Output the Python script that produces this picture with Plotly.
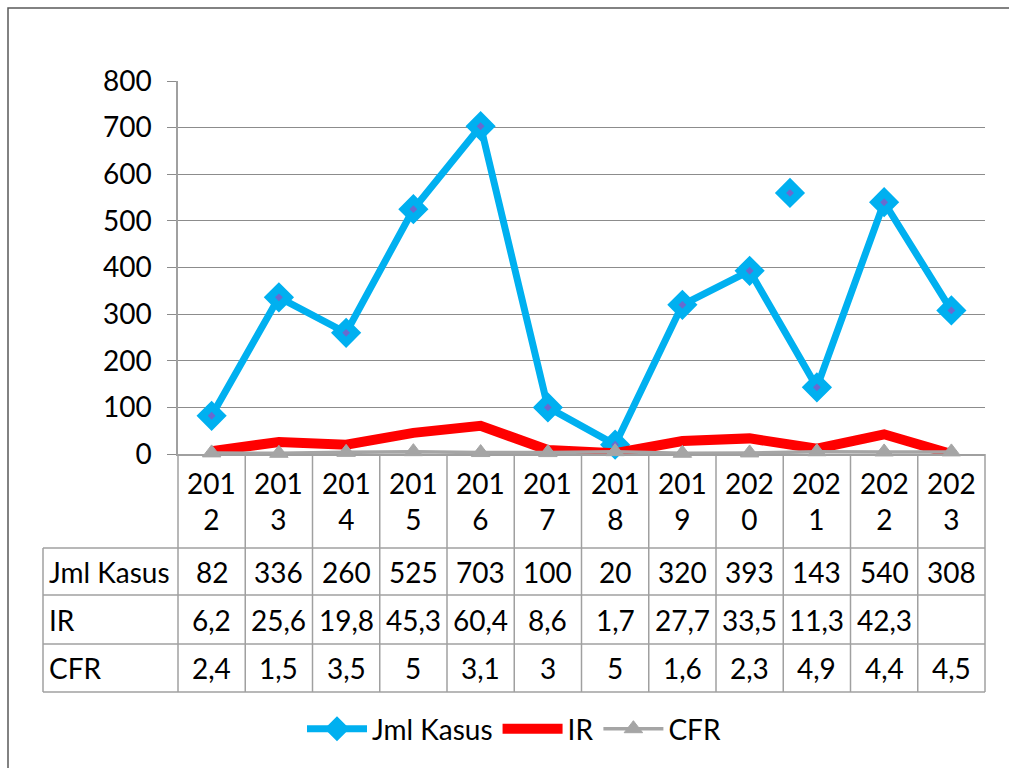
import plotly.graph_objects as go

# Yearly case data
years = [2012, 2013, 2014, 2015, 2016, 2017, 2018, 2019, 2020, 2021, 2022, 2023]
jml_kasus = [82, 336, 260, 525, 703, 100, 20, 320, 393, 143, 540, 308]
ir = [6.2, 25.6, 19.8, 45.3, 60.4, 8.6, 1.7, 27.7, 33.5, 11.3, 42.3, None]
cfr = [2.4, 1.5, 3.5, 5, 3.1, 3, 5, 1.6, 2.3, 4.9, 4.4, 4.5]

# A loose marker left on the sheet
extra_year = [2020.6]
extra_kasus = [560]

y_ticks = [0, 100, 200, 300, 400, 500, 600, 700, 800]

FONT = "Lato"
BLUE = "#00B0F0"
RED = "#FF0000"
GREY = "#A5A5A5"
GRID = "#8C8C8C"
TXT = 28

W, H = 1009, 768
L, R, T, B = 178, 985, 81, 454


def px(x):
    return (x - L) / (R - L)


def py(y):
    return (B - y) / (B - T)


def fmt(v):
    if v is None:
        return ""
    return str(v).replace(".", ",")


fig = go.Figure()

# Empty IR cells are plotted as zero
ir_plot = [0 if v is None else v for v in ir]

fig.add_trace(go.Scatter(
    x=years, y=jml_kasus, name="Jml Kasus", mode="lines+markers",
    line=dict(color=BLUE, width=7),
    marker=dict(symbol="diamond", size=20, color=BLUE,
                line=dict(color=BLUE, width=3)),
    legendrank=1, cliponaxis=False,
))
fig.add_trace(go.Scatter(
    x=extra_year, y=extra_kasus, mode="markers", showlegend=False,
    marker=dict(symbol="diamond", size=20, color=BLUE,
                line=dict(color=BLUE, width=3)),
))
# small centre dots on the diamonds
fig.add_trace(go.Scatter(
    x=years + extra_year, y=jml_kasus + extra_kasus, mode="markers",
    showlegend=False, cliponaxis=False,
    marker=dict(symbol="diamond", size=6, color="#6A6ACF"),
))
fig.add_trace(go.Scatter(
    x=years, y=ir_plot, name="IR", mode="lines",
    line=dict(color=RED, width=10), legendrank=2, cliponaxis=False,
))
fig.add_trace(go.Scatter(
    x=years, y=cfr, name="CFR", mode="lines+markers",
    line=dict(color=GREY, width=3.5),
    marker=dict(symbol="triangle-up", size=16, color=GREY,
                line=dict(color=GREY, width=1)),
    legendrank=3, cliponaxis=False,
))

shapes = []
annotations = []
n = len(years)
label_left = px(43)
row_lines = [548, 595, 644, 692]
line_style = dict(color="#A0A0A0", width=1.5)

# vertical cell borders of the data table
for i in range(n + 1):
    shapes.append(dict(type="line", xref="paper", yref="paper",
                       x0=i / n, x1=i / n, y0=py(B), y1=py(row_lines[-1]),
                       line=line_style, layer="below"))
shapes.append(dict(type="line", xref="paper", yref="paper",
                   x0=label_left, x1=label_left,
                   y0=py(row_lines[0]), y1=py(row_lines[-1]), line=line_style))
# horizontal cell borders
for yy in row_lines:
    shapes.append(dict(type="line", xref="paper", yref="paper",
                       x0=label_left, x1=1, y0=py(yy), y1=py(yy),
                       line=line_style))
# outer chart frame
shapes.append(dict(type="rect", xref="paper", yref="paper",
                   x0=px(8), x1=px(1015), y0=py(8), y1=py(775),
                   line=dict(color="#595959", width=1.5)))

cell_font = dict(family=FONT, size=TXT, color="black")

# year header row
for i, yr in enumerate(years):
    s = str(yr)
    annotations.append(dict(x=(i + 0.5) / n, y=py(501), xref="paper", yref="paper",
                            xanchor="center", yanchor="middle",
                            text=s[:3] + "<br>" + s[3:], showarrow=False,
                            font=cell_font, align="center"))

rows = [("Jml Kasus", jml_kasus, 572), ("IR", ir, 620), ("CFR", cfr, 668)]
for name, vals, yc in rows:
    annotations.append(dict(x=px(47), y=py(yc), xref="paper", yref="paper",
                            text=name, showarrow=False,
                            xanchor="left", yanchor="middle", font=cell_font))
    for i, v in enumerate(vals):
        annotations.append(dict(x=(i + 0.5) / n, y=py(yc), xref="paper", yref="paper",
                                xanchor="center", yanchor="middle",
                                text=fmt(v), showarrow=False, font=cell_font))

fig.update_layout(
    width=W, height=H,
    margin=dict(l=L, r=W - R, t=T, b=H - B),
    paper_bgcolor="white", plot_bgcolor="white",
    font=dict(family=FONT, size=TXT, color="black"),
    shapes=shapes, annotations=annotations,
    showlegend=True,
    legend=dict(orientation="h", x=px(514), xanchor="center",
                y=py(729), yanchor="middle",
                font=cell_font, itemwidth=60, traceorder="normal"),
    xaxis=dict(range=[years[0] - 0.5, years[-1] + 0.5], showticklabels=False,
               showgrid=False, zeroline=False, showline=True,
               linecolor="#A0A0A0", linewidth=1.5, ticks="", layer="below traces"),
    yaxis=dict(range=[0, 800], tickvals=y_ticks, showgrid=True,
               gridcolor=GRID, gridwidth=1.3, zeroline=False,
               showline=True, linecolor="#A0A0A0", linewidth=1.5,
               ticks="outside", ticklen=9, tickcolor=GRID, tickwidth=1.3,
               ticklabelstandoff=10, tickfont=cell_font, layer="below traces"),
)

fig.write_html("out.html")
